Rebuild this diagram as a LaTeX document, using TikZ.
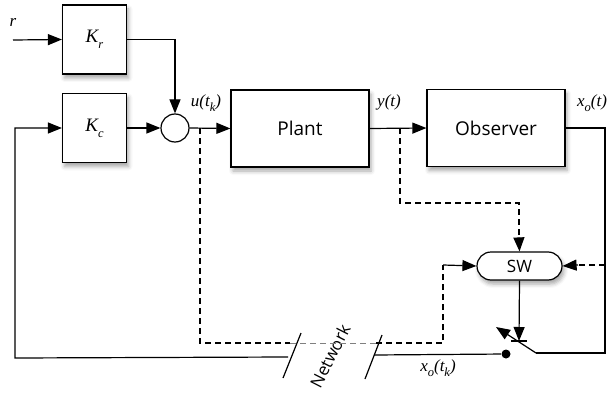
\documentclass[tikz,border=0pt]{standalone}
\usepackage{fontspec}
\setmainfont{Liberation Serif}
\newfontfamily\boxfont{Open Sans}
\usetikzlibrary{arrows.meta,shapes.misc,shadows.blur,calc}
\newcommand\lsub[1]{\raisebox{-0.32em}{\fontsize{12.5}{13}\selectfont\textit{#1}}}
\begin{document}
\begin{tikzpicture}[x=1pt,y=-1pt,line width=1.2pt,
  arr/.style={-{Triangle[length=14pt,width=11pt]}},
  dsh/.style={dash pattern=on 6pt off 4pt},
  shad/.style={blur shadow={shadow xshift=2pt,shadow yshift=-4pt,shadow blur radius=4pt,shadow opacity=35}},
  blockbox/.style={draw,fill=white,shad,minimum width=#1,inner sep=0pt},
  gain/.style={blockbox=64pt,minimum height=69pt,font=\fontsize{19}{22}\selectfont\itshape},
  bigbox/.style={blockbox=138pt,minimum height=77pt,font=\boxfont\fontsize{19}{22}\selectfont},
  lbl/.style={font=\fontsize{17}{20}\selectfont\itshape,inner sep=1pt}]
\useasboundingbox (0,0) rectangle (610,401);
% blocks
\node[gain] (Kr) at (94.5,39.5) {K\lsub{r}};
\node[gain] (Kc) at (94.5,128) {K\lsub{c}};
\node[draw,circle,minimum size=28pt,inner sep=0pt,fill=white] (sum) at (175,128) {};
\node[bigbox] (plant) at (300,128.5) {Plant};
\node[bigbox] (obs) at (496,128) {Observer};
\node[draw,rounded rectangle,fill=white,shad,minimum width=85pt,minimum height=28pt,inner sep=0pt,font=\boxfont\fontsize{17}{20}\selectfont] (sw) at (519.5,266) {SW};
\node[circle,fill=black,minimum size=9pt,inner sep=0pt] (dot) at (506,354) {};
% coordinates
\coordinate (rin) at (13,40);
\coordinate (ubr) at (200,128);
\coordinate (ybr) at (400,128);
\coordinate (xbr) at (605,265);
\coordinate (bladeR) at (536,353);
\coordinate (bladeL) at (496,327);
\coordinate (swend) at (519,341);
\coordinate (n2) at (374,355);
\coordinate (n1) at (288,357);
\coordinate (dl1) at (290,343);
\coordinate (dl2) at (376,343);
% labels
\node[lbl] (rl) at (13,22) {r};
\node[lbl] (ul) at (206,103) {u(t\lsub{k})};
\node[lbl] (yl) at (389,102) {y(t)};
\node[lbl] (xl) at (592,103) {x\lsub{o}(t)};
\node[lbl] (xkl) at (438,368) {x\lsub{o}(t\lsub{k})};
\node[font=\boxfont\fontsize{17}{20}\selectfont,rotate=63,inner sep=0pt] (net) at (330,356) {Network};
% solid connections
\draw[arr] (rin) -- (Kr.west);
\draw[arr] (Kr.east) -| (sum.north);
\draw[arr] (Kc.east) -- (sum.west);
\draw[arr] (sum.east) -- (plant.west);
\draw[arr] (plant.east) -- (obs.west);
\draw (obs.east) -- (605,128) -- (605,353) -- (bladeR);
\draw[-{Triangle[length=14pt,width=11pt]}] (bladeR) -- (bladeL);
\draw[arr] (sw.south) -- (swend);
\draw ($(swend)+(-8,0)$) -- ($(swend)+(8,0)$);
\draw (dot) -- (n2);
\draw[arr] (n1) -- (15,358) -- (15,128) -- (Kc.west);
% network slashes
\draw (283,378) -- (301,333);
\draw (365,379) -- (382,335);
% dashed connections
\draw[dsh] (ubr) |- (dl1);
\draw[dsh,gray,line width=0.7pt] (dl1) -- (dl2);
\draw[dsh] (dl2) -- (443,343) -- (443,265);
\draw[arr] (443,265) -- (sw.west);
\draw[dsh] (ybr) -- (400,203) -- (519,203) -- (519,240);
\draw[arr] (519,240) -- (sw.north);
\draw[dsh] (xbr) -- (578,265);
\draw[arr] (578,265) -- (sw.east);
\end{tikzpicture}
\end{document}
